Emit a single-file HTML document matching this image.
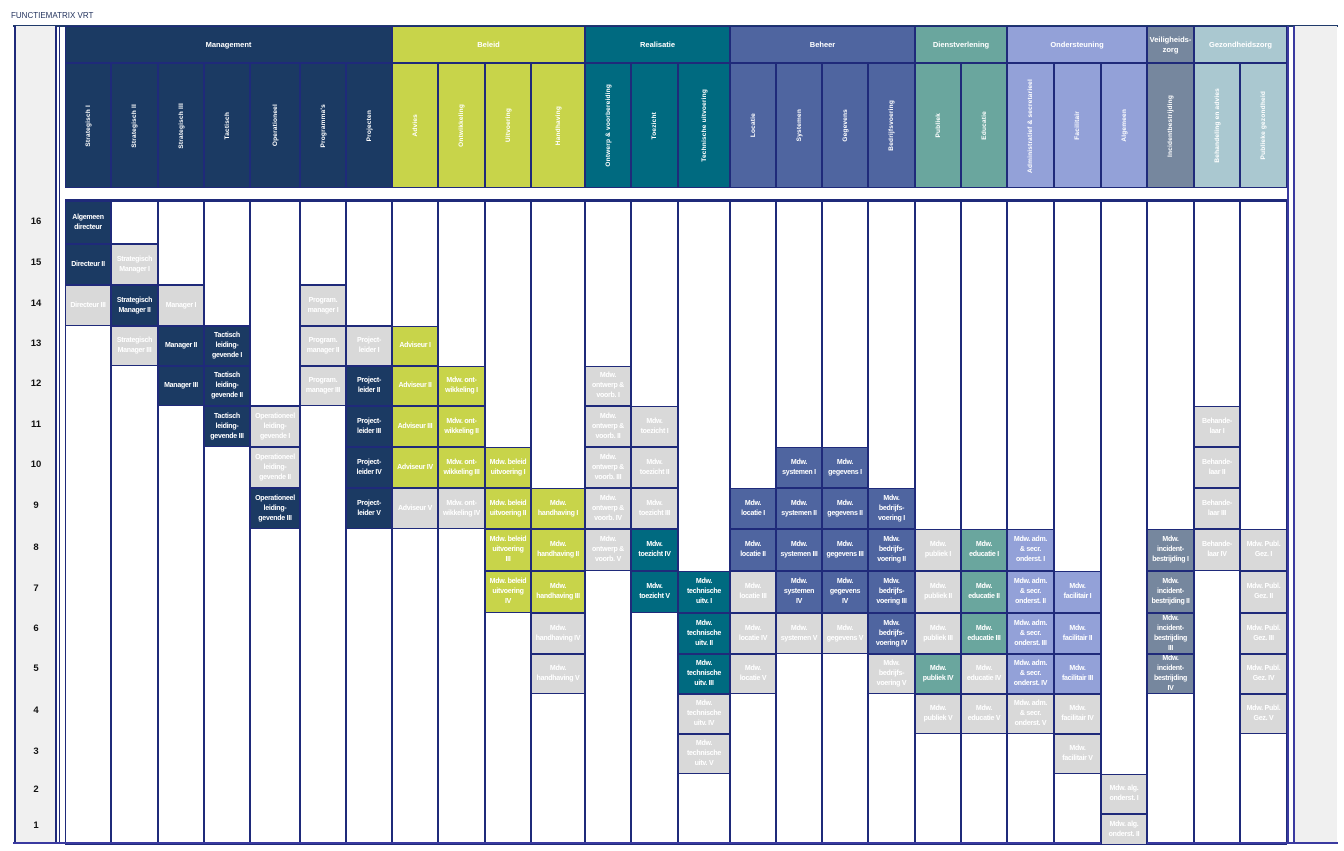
<!DOCTYPE html>
<html><head><meta charset="utf-8">
<style>
*{box-sizing:border-box;margin:0;padding:0}
body{width:1344px;height:851px;background:#fff;position:relative;overflow:hidden;font-family:"Liberation Sans",sans-serif}
.title{position:absolute;left:11px;top:11px;font-size:8px;color:#1f2f5a}
.lcol{position:absolute;left:14px;top:26px;width:43px;height:817px;background:#f0f0f0;border-left:2px solid #1f2a7a;border-right:2px solid #1f2a7a}
.lcol2{position:absolute;left:59px;top:26px;width:3px;height:817px;border-left:1px solid #1f2a7a}
.rcol{position:absolute;left:1293px;top:26px;width:44px;height:817px;background:#f0f0f0;border-left:2px solid #3a3aa0}
.rline{position:absolute;left:1286px;top:26px;width:3px;height:817px;border-right:2px solid #3a3aa0}
.topline{position:absolute;left:13px;top:25px;width:1325px;height:2px;background:#1f3a6a}
.botline{position:absolute;left:13px;top:842px;width:1325px;height:2px;background:#3a3aa0}
.num{position:absolute;left:16px;width:40px;text-align:center;font-size:9.5px;font-weight:bold;color:#111}
.hg{position:absolute;top:26px;height:37px;color:#fff;font-size:7.5px;font-weight:bold;display:flex;align-items:center;justify-content:center;text-align:center;border:1px solid #1f2a7a;line-height:10px}
.hs{position:absolute;top:63px;height:125px;border:1px solid #1f2a7a;display:flex;align-items:center;justify-content:center}
.hs span{writing-mode:vertical-rl;transform:rotate(180deg);color:#fff;font-size:6.5px;font-weight:bold;white-space:nowrap;letter-spacing:0.2px}
.grid{position:absolute;left:65px;top:199px;width:1222px;height:644px;display:grid;
grid-template-columns:46px 47px 46px 46px 50px 46px 46px 46px 47px 46px 54px 46px 47px 52px 46px 46px 46px 47px 46px 46px 47px 47px 46px 47px 46px 47px;
grid-template-rows:43px 41px 41px 40px 40px 41px 41px 41px 42px 42px 41px 40px 40px 40px 40px 31px;border-top:2px solid #1f2a7a}
.col{grid-row:1/17;border:1px solid #1f2a7a;background:#fff}
.c{border:1.5px solid #1f2a7a;display:flex;align-items:center;justify-content:center;text-align:center;color:#fff;font-size:7px;font-weight:bold;line-height:10px;letter-spacing:-0.25px;padding:0 3px;z-index:1;overflow:hidden}
.M{background:#1b3a63}.B{background:#c8d44a}.R{background:#006a80}.H{background:#4f65a0}.D{background:#6aa69e}.O{background:#93a1d8}.V{background:#76879e}.Z{background:#aac8d0}.G{background:#d9d9d9}
</style></head><body>
<div class="title">FUNCTIEMATRIX VRT</div>
<div class="topline"></div>
<div class="lcol"></div><div class="lcol2"></div>
<div class="rline"></div><div class="rcol"></div>

<div class="num" style="top:216px">16</div>
<div class="num" style="top:257px">15</div>
<div class="num" style="top:298px">14</div>
<div class="num" style="top:338px">13</div>
<div class="num" style="top:378px">12</div>
<div class="num" style="top:419px">11</div>
<div class="num" style="top:459px">10</div>
<div class="num" style="top:500px">9</div>
<div class="num" style="top:542px">8</div>
<div class="num" style="top:583px">7</div>
<div class="num" style="top:623px">6</div>
<div class="num" style="top:663px">5</div>
<div class="num" style="top:705px">4</div>
<div class="num" style="top:746px">3</div>
<div class="num" style="top:784px">2</div>
<div class="num" style="top:820px">1</div>

<div class="hg M" style="left:65px;width:327px">Management</div>
<div class="hg B" style="left:392px;width:193px">Beleid</div>
<div class="hg R" style="left:585px;width:145px">Realisatie</div>
<div class="hg H" style="left:730px;width:185px">Beheer</div>
<div class="hg D" style="left:915px;width:92px">Dienstverlening</div>
<div class="hg O" style="left:1007px;width:140px">Ondersteuning</div>
<div class="hg V" style="left:1147px;width:47px">Veiligheids-<br>zorg</div>
<div class="hg Z" style="left:1194px;width:93px">Gezondheidszorg</div>

<div class="hs M" style="left:65px;width:46px"><span>Strategisch I</span></div>
<div class="hs M" style="left:111px;width:47px"><span>Strategisch II</span></div>
<div class="hs M" style="left:158px;width:46px"><span>Strategisch III</span></div>
<div class="hs M" style="left:204px;width:46px"><span>Tactisch</span></div>
<div class="hs M" style="left:250px;width:50px"><span>Operationeel</span></div>
<div class="hs M" style="left:300px;width:46px"><span>Programma's</span></div>
<div class="hs M" style="left:346px;width:46px"><span>Projecten</span></div>
<div class="hs B" style="left:392px;width:46px"><span>Advies</span></div>
<div class="hs B" style="left:438px;width:47px"><span>Ontwikkeling</span></div>
<div class="hs B" style="left:485px;width:46px"><span>Uitvoering</span></div>
<div class="hs B" style="left:531px;width:54px"><span>Handhaving</span></div>
<div class="hs R" style="left:585px;width:46px"><span>Ontwerp &amp; voorbereiding</span></div>
<div class="hs R" style="left:631px;width:47px"><span>Toezicht</span></div>
<div class="hs R" style="left:678px;width:52px"><span>Technische uitvoering</span></div>
<div class="hs H" style="left:730px;width:46px"><span>Locatie</span></div>
<div class="hs H" style="left:776px;width:46px"><span>Systemen</span></div>
<div class="hs H" style="left:822px;width:46px"><span>Gegevens</span></div>
<div class="hs H" style="left:868px;width:47px"><span>Bedrijfsvoering</span></div>
<div class="hs D" style="left:915px;width:46px"><span>Publiek</span></div>
<div class="hs D" style="left:961px;width:46px"><span>Educatie</span></div>
<div class="hs O" style="left:1007px;width:47px"><span>Administratief &amp; secretarieel</span></div>
<div class="hs O" style="left:1054px;width:47px"><span>Facilitair</span></div>
<div class="hs O" style="left:1101px;width:46px"><span>Algemeen</span></div>
<div class="hs V" style="left:1147px;width:47px"><span>Incidentbestrijding</span></div>
<div class="hs Z" style="left:1194px;width:46px"><span>Behandeling en advies</span></div>
<div class="hs Z" style="left:1240px;width:47px"><span>Publieke gezondheid</span></div>

<div class="grid">
<div class="col" style="grid-column:1"></div><div class="col" style="grid-column:2"></div><div class="col" style="grid-column:3"></div><div class="col" style="grid-column:4"></div><div class="col" style="grid-column:5"></div><div class="col" style="grid-column:6"></div><div class="col" style="grid-column:7"></div><div class="col" style="grid-column:8"></div><div class="col" style="grid-column:9"></div><div class="col" style="grid-column:10"></div><div class="col" style="grid-column:11"></div><div class="col" style="grid-column:12"></div><div class="col" style="grid-column:13"></div><div class="col" style="grid-column:14"></div><div class="col" style="grid-column:15"></div><div class="col" style="grid-column:16"></div><div class="col" style="grid-column:17"></div><div class="col" style="grid-column:18"></div><div class="col" style="grid-column:19"></div><div class="col" style="grid-column:20"></div><div class="col" style="grid-column:21"></div><div class="col" style="grid-column:22"></div><div class="col" style="grid-column:23"></div><div class="col" style="grid-column:24"></div><div class="col" style="grid-column:25"></div><div class="col" style="grid-column:26"></div>

<div class="c M" style="grid-column:1;grid-row:1">Algemeen directeur</div>
<div class="c M" style="grid-column:1;grid-row:2">Directeur II</div>
<div class="c G" style="grid-column:1;grid-row:3">Directeur III</div>
<div class="c" style="grid-column:2;grid-row:1;background:#fff"></div>
<div class="c G" style="grid-column:2;grid-row:2">Strategisch Manager I</div>
<div class="c M" style="grid-column:2;grid-row:3">Strategisch Manager II</div>
<div class="c G" style="grid-column:2;grid-row:4">Strategisch Manager III</div>
<div class="c" style="grid-column:3;grid-row:1/3;background:#fff"></div>
<div class="c G" style="grid-column:3;grid-row:3">Manager I</div>
<div class="c M" style="grid-column:3;grid-row:4">Manager II</div>
<div class="c M" style="grid-column:3;grid-row:5">Manager III</div>
<div class="c" style="grid-column:4;grid-row:1/4;background:#fff"></div>
<div class="c M" style="grid-column:4;grid-row:4">Tactisch leiding-gevende I</div>
<div class="c M" style="grid-column:4;grid-row:5">Tactisch leiding-gevende II</div>
<div class="c M" style="grid-column:4;grid-row:6">Tactisch leiding-gevende III</div>
<div class="c" style="grid-column:5;grid-row:1/6;background:#fff"></div>
<div class="c G" style="grid-column:5;grid-row:6">Operationeel leiding-gevende I</div>
<div class="c G" style="grid-column:5;grid-row:7">Operationeel leiding-gevende II</div>
<div class="c M" style="grid-column:5;grid-row:8">Operationeel leiding-gevende III</div>
<div class="c" style="grid-column:6;grid-row:1/3;background:#fff"></div>
<div class="c G" style="grid-column:6;grid-row:3">Program. manager I</div>
<div class="c G" style="grid-column:6;grid-row:4">Program. manager II</div>
<div class="c G" style="grid-column:6;grid-row:5">Program. manager III</div>
<div class="c" style="grid-column:7;grid-row:1/4;background:#fff"></div>
<div class="c G" style="grid-column:7;grid-row:4">Project-leider I</div>
<div class="c M" style="grid-column:7;grid-row:5">Project-leider II</div>
<div class="c M" style="grid-column:7;grid-row:6">Project-leider III</div>
<div class="c M" style="grid-column:7;grid-row:7">Project-leider IV</div>
<div class="c M" style="grid-column:7;grid-row:8">Project-leider V</div>
<div class="c B" style="grid-column:8;grid-row:4">Adviseur I</div>
<div class="c B" style="grid-column:8;grid-row:5">Adviseur II</div>
<div class="c B" style="grid-column:8;grid-row:6">Adviseur III</div>
<div class="c B" style="grid-column:8;grid-row:7">Adviseur IV</div>
<div class="c G" style="grid-column:8;grid-row:8">Adviseur V</div>
<div class="c B" style="grid-column:9;grid-row:5">Mdw. ont-wikkeling I</div>
<div class="c B" style="grid-column:9;grid-row:6">Mdw. ont-wikkeling II</div>
<div class="c B" style="grid-column:9;grid-row:7">Mdw. ont-wikkeling III</div>
<div class="c G" style="grid-column:9;grid-row:8">Mdw. ont-wikkeling IV</div>
<div class="c B" style="grid-column:10;grid-row:7">Mdw. beleid uitvoering I</div>
<div class="c B" style="grid-column:10;grid-row:8">Mdw. beleid uitvoering II</div>
<div class="c B" style="grid-column:10;grid-row:9">Mdw. beleid uitvoering III</div>
<div class="c B" style="grid-column:10;grid-row:10">Mdw. beleid uitvoering IV</div>
<div class="c B" style="grid-column:11;grid-row:8">Mdw. handhaving I</div>
<div class="c B" style="grid-column:11;grid-row:9">Mdw. handhaving II</div>
<div class="c B" style="grid-column:11;grid-row:10">Mdw. handhaving III</div>
<div class="c G" style="grid-column:11;grid-row:11">Mdw. handhaving IV</div>
<div class="c G" style="grid-column:11;grid-row:12">Mdw. handhaving V</div>
<div class="c G" style="grid-column:12;grid-row:5">Mdw. ontwerp &amp; voorb. I</div>
<div class="c G" style="grid-column:12;grid-row:6">Mdw. ontwerp &amp; voorb. II</div>
<div class="c G" style="grid-column:12;grid-row:7">Mdw. ontwerp &amp; voorb. III</div>
<div class="c G" style="grid-column:12;grid-row:8">Mdw. ontwerp &amp; voorb. IV</div>
<div class="c G" style="grid-column:12;grid-row:9">Mdw. ontwerp &amp; voorb. V</div>
<div class="c G" style="grid-column:13;grid-row:6">Mdw. toezicht I</div>
<div class="c G" style="grid-column:13;grid-row:7">Mdw. toezicht II</div>
<div class="c G" style="grid-column:13;grid-row:8">Mdw. toezicht III</div>
<div class="c R" style="grid-column:13;grid-row:9">Mdw. toezicht IV</div>
<div class="c R" style="grid-column:13;grid-row:10">Mdw. toezicht V</div>
<div class="c R" style="grid-column:14;grid-row:10">Mdw. technische uitv. I</div>
<div class="c R" style="grid-column:14;grid-row:11">Mdw. technische uitv. II</div>
<div class="c R" style="grid-column:14;grid-row:12">Mdw. technische uitv. III</div>
<div class="c G" style="grid-column:14;grid-row:13">Mdw. technische uitv. IV</div>
<div class="c G" style="grid-column:14;grid-row:14">Mdw. technische uitv. V</div>
<div class="c H" style="grid-column:15;grid-row:8">Mdw. locatie I</div>
<div class="c H" style="grid-column:15;grid-row:9">Mdw. locatie II</div>
<div class="c G" style="grid-column:15;grid-row:10">Mdw. locatie III</div>
<div class="c G" style="grid-column:15;grid-row:11">Mdw. locatie IV</div>
<div class="c G" style="grid-column:15;grid-row:12">Mdw. locatie V</div>
<div class="c H" style="grid-column:16;grid-row:7">Mdw. systemen I</div>
<div class="c H" style="grid-column:16;grid-row:8">Mdw. systemen II</div>
<div class="c H" style="grid-column:16;grid-row:9">Mdw. systemen III</div>
<div class="c H" style="grid-column:16;grid-row:10">Mdw. systemen IV</div>
<div class="c G" style="grid-column:16;grid-row:11">Mdw. systemen V</div>
<div class="c H" style="grid-column:17;grid-row:7">Mdw. gegevens I</div>
<div class="c H" style="grid-column:17;grid-row:8">Mdw. gegevens II</div>
<div class="c H" style="grid-column:17;grid-row:9">Mdw. gegevens III</div>
<div class="c H" style="grid-column:17;grid-row:10">Mdw. gegevens IV</div>
<div class="c G" style="grid-column:17;grid-row:11">Mdw. gegevens V</div>
<div class="c H" style="grid-column:18;grid-row:8">Mdw. bedrijfs-voering I</div>
<div class="c H" style="grid-column:18;grid-row:9">Mdw. bedrijfs-voering II</div>
<div class="c H" style="grid-column:18;grid-row:10">Mdw. bedrijfs-voering III</div>
<div class="c H" style="grid-column:18;grid-row:11">Mdw. bedrijfs-voering IV</div>
<div class="c G" style="grid-column:18;grid-row:12">Mdw. bedrijfs-voering V</div>
<div class="c G" style="grid-column:19;grid-row:9">Mdw. publiek I</div>
<div class="c G" style="grid-column:19;grid-row:10">Mdw. publiek II</div>
<div class="c G" style="grid-column:19;grid-row:11">Mdw. publiek III</div>
<div class="c D" style="grid-column:19;grid-row:12">Mdw. publiek IV</div>
<div class="c G" style="grid-column:19;grid-row:13">Mdw. publiek V</div>
<div class="c D" style="grid-column:20;grid-row:9">Mdw. educatie I</div>
<div class="c D" style="grid-column:20;grid-row:10">Mdw. educatie II</div>
<div class="c D" style="grid-column:20;grid-row:11">Mdw. educatie III</div>
<div class="c G" style="grid-column:20;grid-row:12">Mdw. educatie IV</div>
<div class="c G" style="grid-column:20;grid-row:13">Mdw. educatie V</div>
<div class="c O" style="grid-column:21;grid-row:9">Mdw. adm. &amp; secr. onderst. I</div>
<div class="c O" style="grid-column:21;grid-row:10">Mdw. adm. &amp; secr. onderst. II</div>
<div class="c O" style="grid-column:21;grid-row:11">Mdw. adm. &amp; secr. onderst. III</div>
<div class="c O" style="grid-column:21;grid-row:12">Mdw. adm. &amp; secr. onderst. IV</div>
<div class="c G" style="grid-column:21;grid-row:13">Mdw. adm. &amp; secr. onderst. V</div>
<div class="c O" style="grid-column:22;grid-row:10">Mdw. facilitair I</div>
<div class="c O" style="grid-column:22;grid-row:11">Mdw. facilitair II</div>
<div class="c O" style="grid-column:22;grid-row:12">Mdw. facilitair III</div>
<div class="c G" style="grid-column:22;grid-row:13">Mdw. facilitair IV</div>
<div class="c G" style="grid-column:22;grid-row:14">Mdw. facilitair V</div>
<div class="c G" style="grid-column:23;grid-row:15">Mdw. alg. onderst. I</div>
<div class="c G" style="grid-column:23;grid-row:16">Mdw. alg. onderst. II</div>
<div class="c V" style="grid-column:24;grid-row:9">Mdw. incident-bestrijding I</div>
<div class="c V" style="grid-column:24;grid-row:10">Mdw. incident-bestrijding II</div>
<div class="c V" style="grid-column:24;grid-row:11">Mdw. incident-bestrijding III</div>
<div class="c V" style="grid-column:24;grid-row:12">Mdw. incident-bestrijding IV</div>
<div class="c G" style="grid-column:25;grid-row:6">Behande-laar I</div>
<div class="c G" style="grid-column:25;grid-row:7">Behande-laar II</div>
<div class="c G" style="grid-column:25;grid-row:8">Behande-laar III</div>
<div class="c G" style="grid-column:25;grid-row:9">Behande-laar IV</div>
<div class="c G" style="grid-column:26;grid-row:9">Mdw. Publ. Gez. I</div>
<div class="c G" style="grid-column:26;grid-row:10">Mdw. Publ. Gez. II</div>
<div class="c G" style="grid-column:26;grid-row:11">Mdw. Publ. Gez. III</div>
<div class="c G" style="grid-column:26;grid-row:12">Mdw. Publ. Gez. IV</div>
<div class="c G" style="grid-column:26;grid-row:13">Mdw. Publ. Gez. V</div>
</div>
<div class="botline"></div>
</body></html>
